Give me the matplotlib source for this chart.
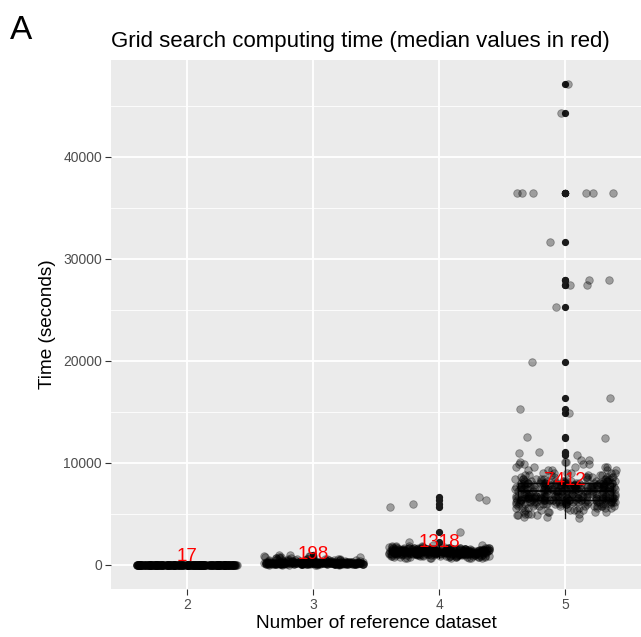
import numpy as np
import matplotlib
matplotlib.use("Agg")
import matplotlib.pyplot as plt
from matplotlib.ticker import MultipleLocator

plt.rcParams['font.family'] = ['Liberation Sans', 'DejaVu Sans']

categories = ["2", "3", "4", "5"]

# Observed times (seconds) per group, given as value / how many runs took it
time_2_values = [5, 8, 10, 12, 14, 15, 16, 17, 18, 19, 20, 22, 24, 26, 28, 32]
time_2_counts = [6, 10, 16, 20, 24, 26, 28, 34, 28, 24, 20, 16, 12, 8, 6, 4]

time_3_values = [40, 60, 80, 100, 120, 140, 160, 180, 198, 210, 230, 250, 270, 300,
                 330, 360, 400, 450, 500, 560, 620, 700, 780, 860, 940]
time_3_counts = [6, 10, 14, 18, 20, 22, 22, 20, 18, 18, 16, 14, 12, 12,
                 10, 8, 8, 6, 6, 5, 5, 4, 4, 3, 2]

time_4_values = [700, 800, 900, 1000, 1050, 1100, 1150, 1200, 1250, 1300, 1318, 1350,
                 1400, 1450, 1500, 1550, 1600, 1650, 1700, 1800, 1900, 2000, 2287,
                 3206, 5680, 6000, 6320, 6650]
time_4_counts = [8, 10, 14, 16, 16, 20, 20, 20, 20, 12, 20, 18,
                 18, 18, 18, 16, 14, 12, 8, 6, 4, 2, 1,
                 1, 1, 1, 1, 1]

time_5_values = [4578, 4700, 4850, 5000, 5200, 5400, 5600, 5800, 6000, 6200, 6400, 6600,
                 6800, 7000, 7200, 7412, 7600, 7800, 8000, 8200, 8400, 8600, 8800, 9000,
                 9300, 9600, 9900, 10100, 10294,
                 10780, 10950, 11050, 12420, 12550, 14930, 15250, 16380, 19920, 25250,
                 27450, 27900, 31700, 36450, 44300, 47150]
time_5_counts = [1, 2, 3, 4, 5, 6, 8, 10, 16, 22, 30, 26,
                 28, 22, 18, 26, 28, 26, 22, 14, 10, 8, 6, 6,
                 5, 5, 4, 3, 2,
                 1, 1, 1, 1, 1, 1, 1, 1, 1, 1,
                 2, 2, 1, 6, 1, 1]

median_labels = [17, 198, 1318, 7412]

groups = [np.repeat(time_2_values, time_2_counts),
          np.repeat(time_3_values, time_3_counts),
          np.repeat(time_4_values, time_4_counts),
          np.repeat(time_5_values, time_5_counts)]

fig = plt.figure(figsize=(6.41, 6.37), dpi=100)
ax = fig.add_axes([111/641, 1 - 589/637, 530/641, (589 - 60)/637])
ax.set_facecolor('#EBEBEB')

positions = np.arange(1, len(categories) + 1)

bp = ax.boxplot(groups, positions=positions, widths=0.75, patch_artist=True,
                showcaps=False, whis=1.5, zorder=2,
                boxprops=dict(facecolor='white', edgecolor='#1a1a1a', linewidth=1.0),
                medianprops=dict(color='#1a1a1a', linewidth=1.6),
                whiskerprops=dict(color='#1a1a1a', linewidth=1.0),
                flierprops=dict(marker='o', markersize=4.2, markerfacecolor='#1a1a1a',
                                markeredgecolor='#1a1a1a', linestyle='none'))

# horizontal jitter, as geom_jitter does
rng = np.random.default_rng(7)
for pos, vals in zip(positions, groups):
    xj = pos + rng.uniform(-0.4, 0.4, size=len(vals))
    ax.scatter(xj, vals, s=30, color='black', alpha=0.33, linewidths=0.6,
               edgecolors='black', zorder=3)

for pos, med in zip(positions, median_labels):
    ax.text(pos, med, str(med), color='red', fontsize=13.5, ha='center',
            va='bottom', zorder=5)

ax.set_xlim(0.4, 4.6)
ax.set_ylim(-2360, 49500)
ax.set_xticks(positions)
ax.set_xticklabels(categories)
ax.yaxis.set_minor_locator(MultipleLocator(5000))
ax.set_yticks([0, 10000, 20000, 30000, 40000])
ax.set_yticklabels(["0", "10000", "20000", "30000", "40000"])

ax.grid(which='major', color='white', linewidth=1.3, zorder=0)
ax.grid(which='minor', axis='y', color='white', linewidth=0.6, zorder=0)
ax.set_axisbelow(True)
for s in ax.spines.values():
    s.set_visible(False)
ax.tick_params(axis='both', which='major', length=4, width=0.8, color='#333333',
               labelsize=10, labelcolor='#4D4D4D', pad=2.5)
ax.tick_params(axis='both', which='minor', length=0)

ax.set_xlabel("Number of reference dataset", fontsize=13.7, color='black', labelpad=2)
ax.set_ylabel("Time (seconds)", fontsize=13.7, color='black', labelpad=5)
ax.set_title("Grid search computing time (median values in red)", fontsize=16,
             loc='left', pad=9, x=0.0)
fig.text(10/641, 1 - 39/637, "A", fontsize=24, va='baseline', ha='left')

fig.savefig("out.png", dpi=100)
